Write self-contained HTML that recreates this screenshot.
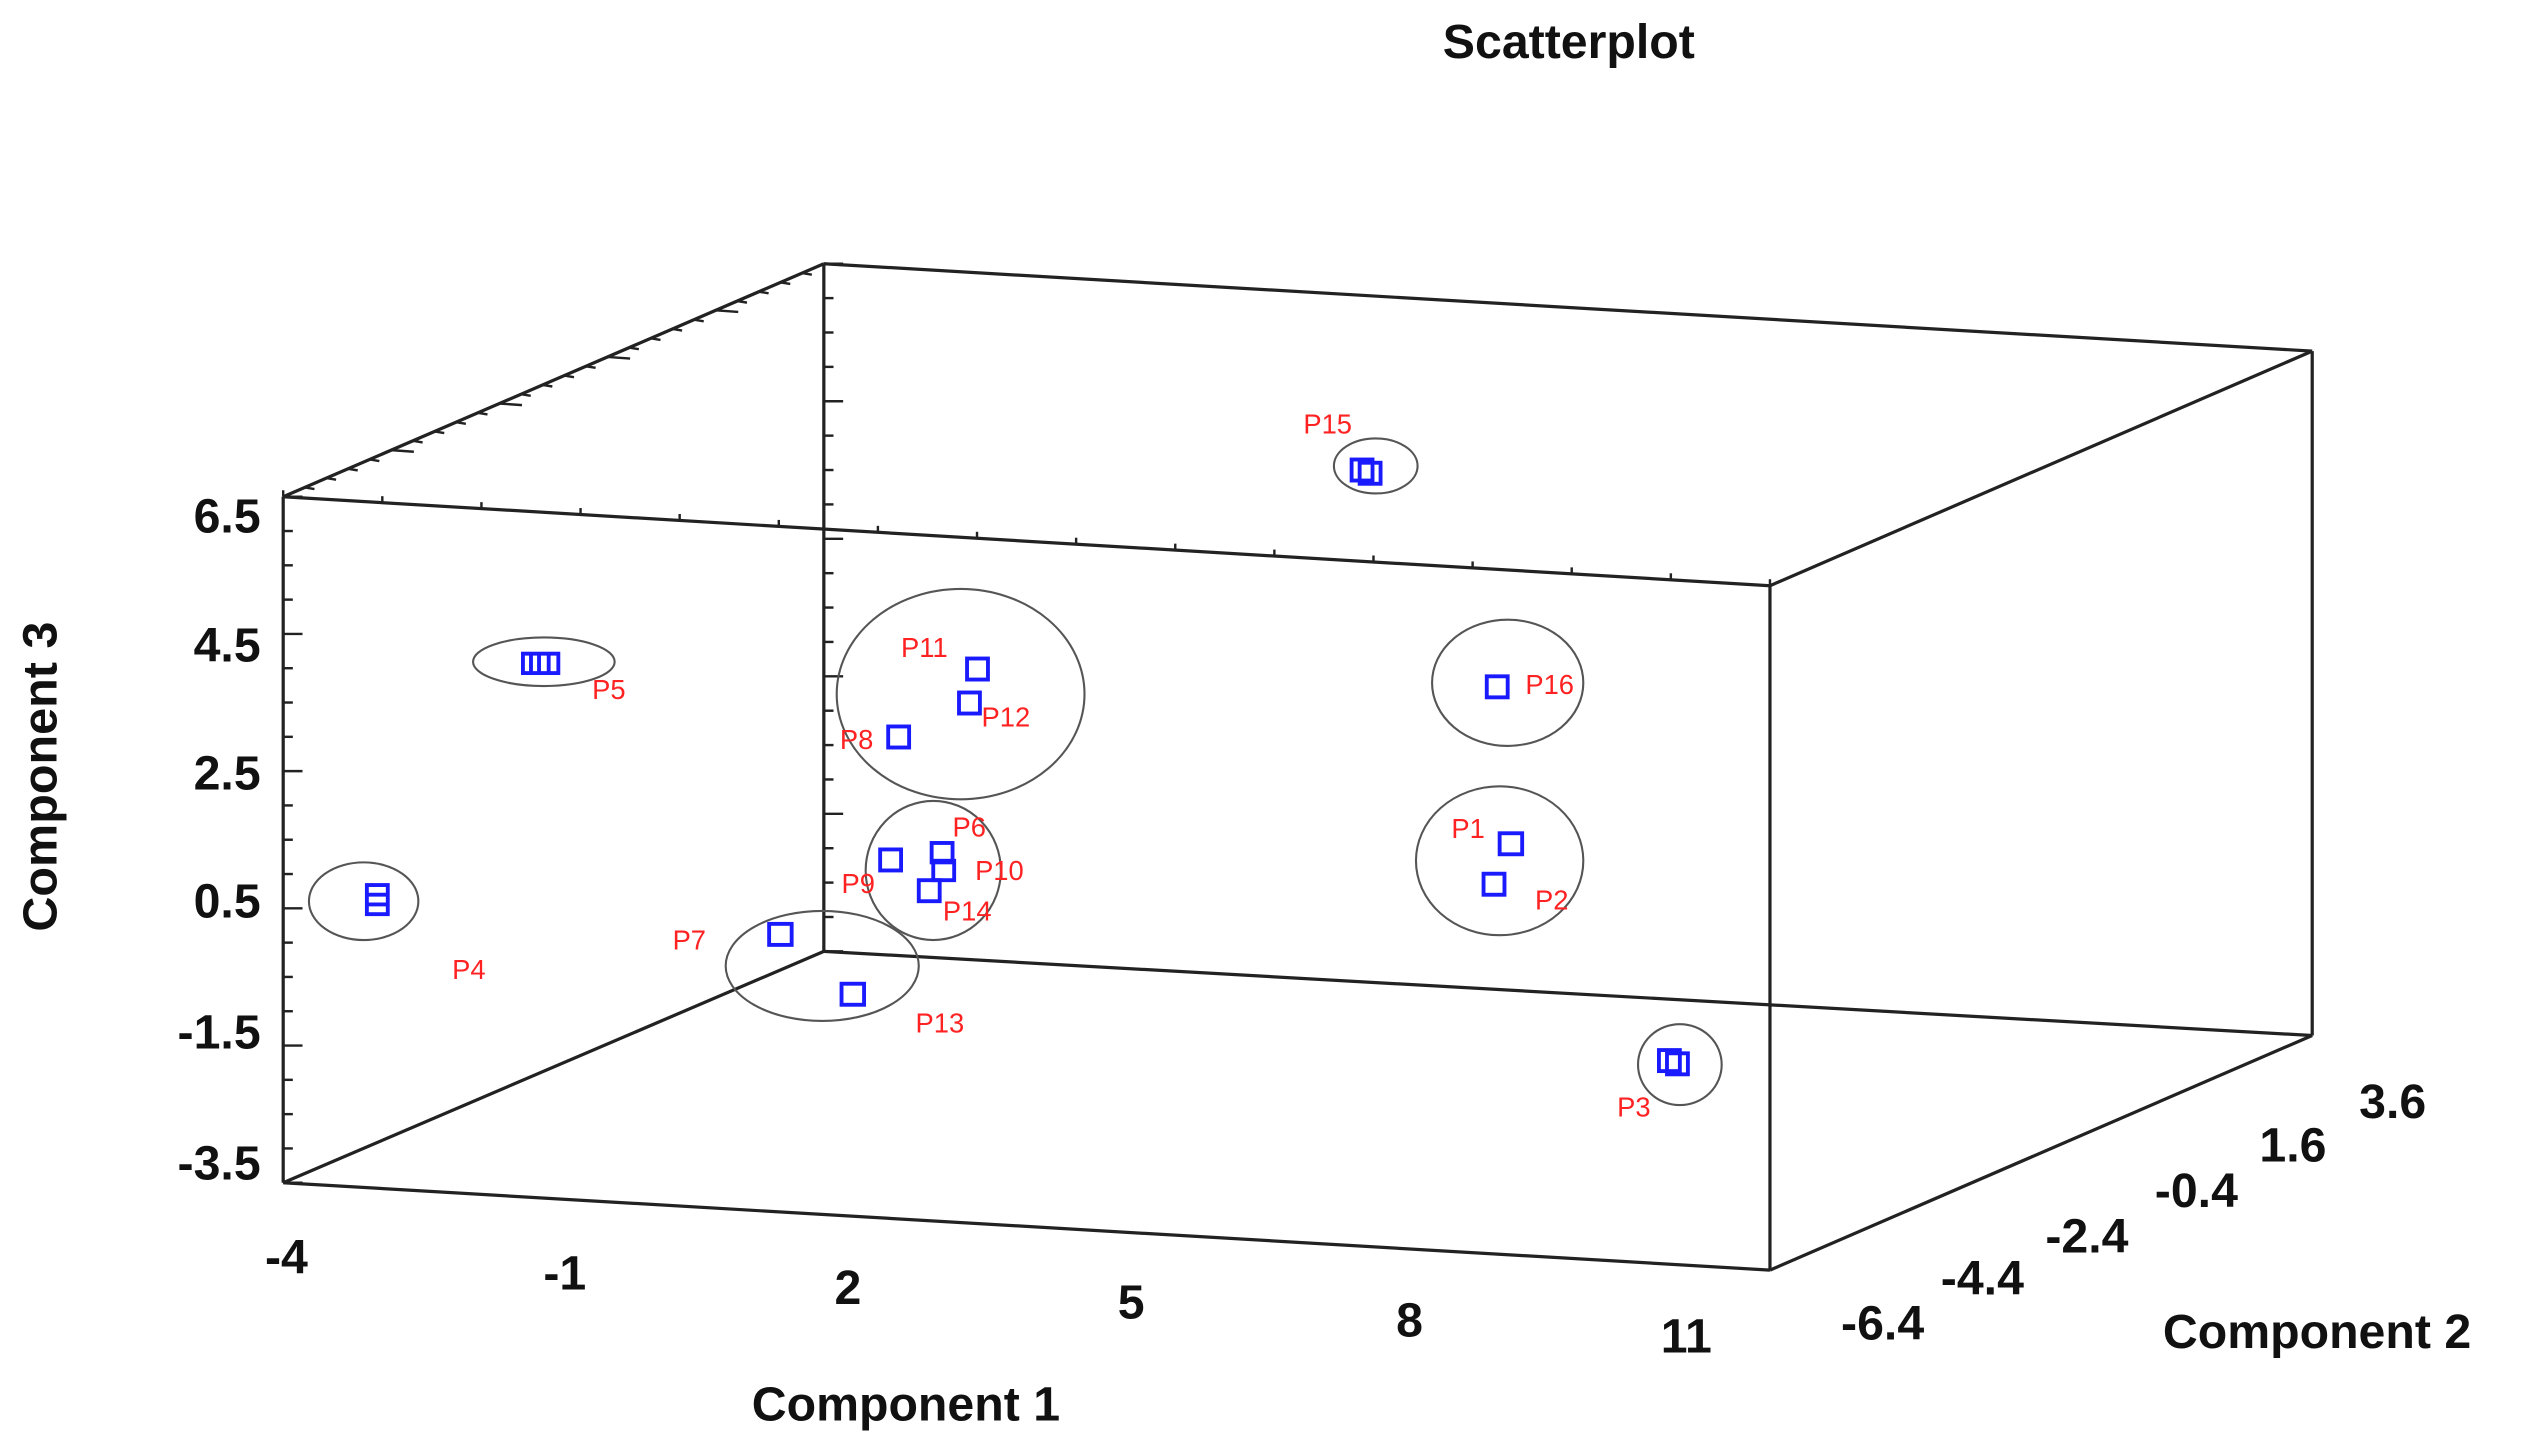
<!DOCTYPE html>
<html><head><meta charset="utf-8"><style>
html,body{margin:0;padding:0;background:#fff;width:2523px;height:1440px;overflow:hidden}
svg{display:block}
.ax{font-family:"Liberation Sans",sans-serif;font-weight:bold;font-size:30px;fill:#111}
.lb{font-family:"Liberation Sans",sans-serif;font-size:17px;fill:#f22}
.pt{fill:none;stroke:#1a1aff;stroke-width:2.4}
.el{fill:none;stroke:#555;stroke-width:1.3}
</style></head><body>
<svg id="s" width="2523" height="1440" viewBox="0 0 1568 890" preserveAspectRatio="none">
<g stroke="#222" stroke-width="2" fill="none">
<line x1="176" y1="307" x2="1100" y2="362"/>
<line x1="512" y1="163" x2="1437" y2="217"/>
<line x1="176" y1="307" x2="512" y2="163"/>
<line x1="1100" y1="362" x2="1437" y2="217"/>
<line x1="176" y1="307" x2="176" y2="731"/>
<line x1="512" y1="163" x2="512" y2="588"/>
<line x1="1100" y1="362" x2="1100" y2="785"/>
<line x1="1437" y1="217" x2="1437" y2="640"/>
<line x1="176" y1="731" x2="1100" y2="785"/>
<line x1="512" y1="588" x2="1437" y2="640"/>
<line x1="176" y1="731" x2="512" y2="588"/>
<line x1="1100" y1="785" x2="1437" y2="640"/>
</g>
<g id="ticks" stroke="#222" stroke-width="1.5"></g>
<text x="975" y="36" text-anchor="middle" class="ax" font-size="31">Scatterplot</text>
<g class="ax" text-anchor="end">
<text x="162" y="329">6.5</text><text x="162" y="409">4.5</text><text x="162" y="488">2.5</text>
<text x="162" y="567">0.5</text><text x="162" y="648">-1.5</text><text x="162" y="729">-3.5</text>
</g>
<text transform="translate(35,480) rotate(-90)" text-anchor="middle" class="ax">Component 3</text>
<g class="ax" text-anchor="middle">
<text x="178" y="787">-4</text><text x="351" y="797">-1</text><text x="527" y="806">2</text>
<text x="703" y="815">5</text><text x="876" y="826">8</text><text x="1048" y="836">11</text>
<text x="563" y="878">Component 1</text>
</g>
<g class="ax" text-anchor="middle">
<text x="1170" y="828">-6.4</text><text x="1232" y="800">-4.4</text><text x="1297" y="774">-2.4</text>
<text x="1365" y="746">-0.4</text><text x="1425" y="718">1.6</text><text x="1487" y="691">3.6</text>
<text x="1440" y="833">Component 2</text>
</g>
<g class="el">
<ellipse cx="338" cy="409" rx="44" ry="15"/>
<ellipse cx="226" cy="557" rx="34" ry="24"/>
<ellipse cx="597" cy="429" rx="77" ry="65"/>
<ellipse cx="580" cy="538" rx="42" ry="43"/>
<ellipse cx="511" cy="597" rx="60" ry="34"/>
<ellipse cx="855" cy="288" rx="26" ry="17"/>
<ellipse cx="937" cy="422" rx="47" ry="39"/>
<ellipse cx="932" cy="532" rx="52" ry="46"/>
<ellipse cx="1044" cy="658" rx="26" ry="25"/>
</g>
<g class="pt">
<rect x="325" y="404" width="22" height="12"/><line x1="330" y1="404" x2="330" y2="416"/><line x1="335" y1="404" x2="335" y2="416"/><line x1="341" y1="404" x2="341" y2="416"/>
<rect x="228" y="547" width="13" height="18"/><line x1="228" y1="553" x2="241" y2="553"/><line x1="228" y1="559" x2="241" y2="559"/>
<rect x="601" y="407" width="13" height="13"/>
<rect x="596" y="428" width="13" height="13"/>
<rect x="552" y="449" width="13" height="13"/>
<rect x="547" y="525" width="13" height="13"/>
<rect x="579" y="521" width="13" height="12"/><rect x="580" y="532" width="13" height="12"/>
<rect x="571" y="544" width="13" height="13"/>
<rect x="478" y="571" width="14" height="13"/>
<rect x="523" y="608" width="14" height="13"/>
<rect x="840" y="284" width="13" height="13"/><rect x="845" y="286" width="13" height="13"/>
<rect x="924" y="418" width="13" height="13"/>
<rect x="932" y="515" width="14" height="13"/>
<rect x="922" y="540" width="13" height="13"/>
<rect x="1031" y="649" width="13" height="13"/><rect x="1036" y="651" width="13" height="13"/>
</g>
<g class="lb">
<text x="810" y="268">P15</text><text x="368" y="432">P5</text><text x="560" y="406">P11</text>
<text x="610" y="449">P12</text><text x="522" y="463">P8</text><text x="948" y="429">P16</text>
<text x="592" y="517">P6</text><text x="606" y="544">P10</text><text x="523" y="552">P9</text>
<text x="586" y="569">P14</text><text x="418" y="587">P7</text><text x="281" y="605">P4</text>
<text x="569" y="638">P13</text><text x="902" y="518">P1</text><text x="954" y="562">P2</text>
<text x="1005" y="690">P3</text>
</g>
</svg>
<script>
var g=document.getElementById('ticks'),ns='http://www.w3.org/2000/svg';
function L(a,b,c,d){var l=document.createElementNS(ns,'line');l.setAttribute('x1',a);l.setAttribute('y1',b);l.setAttribute('x2',c);l.setAttribute('y2',d);g.appendChild(l);}
for(var i=0;i<=20;i++){var t=i/20;var y1=307+424*t,y2=163+425*t;var len=(i%4==0)?12:6;L(176,y1,176+len,y1);L(512,y2,512+len,y2);}
for(var i=0;i<=25;i++){var t=i/25;var x=176+336*t,y=307-144*t;var len=(i%5==0)?14:6;L(x,y,x+len,y+1);}
for(var i=0;i<=15;i++){var t=i/15;var x=176+924*t,y=307+55*t;L(x,y,x,y-4);}
</script>
</body></html>
